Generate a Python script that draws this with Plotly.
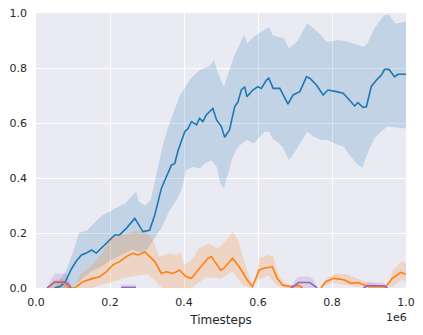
import plotly.graph_objects as go

# ---------------- data ----------------
blue_x = [0.05, 0.065, 0.078, 0.096, 0.11, 0.123, 0.136, 0.15, 0.163, 0.181, 0.195, 0.213, 0.226, 0.244,
          0.267, 0.28, 0.289, 0.307, 0.321, 0.339, 0.352, 0.366, 0.375, 0.384, 0.402, 0.411, 0.42, 0.434,
          0.442, 0.451, 0.46, 0.478, 0.488, 0.501, 0.51, 0.523, 0.537, 0.546, 0.555, 0.564, 0.570, 0.586,
          0.6, 0.609, 0.623, 0.629, 0.641, 0.659, 0.681, 0.695, 0.713, 0.731, 0.74, 0.758, 0.776, 0.789,
          0.812, 0.83, 0.843, 0.861, 0.87, 0.884, 0.893, 0.906, 0.92, 0.934, 0.942, 0.954, 0.969, 0.978, 1.0]
blue_y = [0.0, 0.005, 0.02, 0.07, 0.10, 0.12, 0.127, 0.138, 0.127, 0.15, 0.168, 0.193, 0.193, 0.217,
          0.253, 0.223, 0.205, 0.21, 0.265, 0.363, 0.405, 0.447, 0.453, 0.50, 0.568, 0.58, 0.605, 0.593,
          0.617, 0.605, 0.629, 0.653, 0.611, 0.587, 0.548, 0.575, 0.659, 0.677, 0.72, 0.732, 0.696, 0.72,
          0.732, 0.726, 0.756, 0.763, 0.726, 0.726, 0.669, 0.702, 0.714, 0.768, 0.763, 0.738, 0.702, 0.72,
          0.714, 0.708, 0.69, 0.662, 0.674, 0.657, 0.659, 0.732, 0.756, 0.775, 0.795, 0.795, 0.768, 0.777, 0.777]
blue_hi_x = [0.05, 0.08, 0.1, 0.116, 0.139, 0.16, 0.18, 0.215, 0.242, 0.27, 0.278, 0.296, 0.31, 0.323,
             0.335, 0.345, 0.361, 0.388, 0.415, 0.442, 0.465, 0.472, 0.481, 0.49, 0.508, 0.535, 0.562,
             0.571, 0.589, 0.616, 0.63, 0.639, 0.652, 0.67, 0.684, 0.706, 0.733, 0.751, 0.77, 0.783,
             0.796, 0.815, 0.842, 0.869, 0.886, 0.896, 0.914, 0.941, 0.954, 0.972, 1.0]
blue_hi_y = [0.0, 0.06, 0.13, 0.2, 0.21, 0.24, 0.265, 0.29, 0.309, 0.35, 0.314, 0.30, 0.32, 0.40,
             0.47, 0.53, 0.60, 0.696, 0.756, 0.793, 0.805, 0.811, 0.829, 0.787, 0.732, 0.841, 0.92,
             0.89, 0.914, 0.938, 0.95, 0.92, 0.914, 0.908, 0.872, 0.896, 0.962, 0.944, 0.92, 0.896,
             0.896, 0.902, 0.896, 0.884, 0.877, 0.89, 0.944, 0.993, 0.993, 0.962, 0.968]
blue_lo_x = [0.05, 0.08, 0.1, 0.13, 0.15, 0.18, 0.2, 0.23, 0.26, 0.28, 0.3, 0.32, 0.34, 0.36, 0.38,
             0.393, 0.406, 0.424, 0.442, 0.456, 0.474, 0.488, 0.498, 0.508, 0.52, 0.532, 0.546, 0.569,
             0.589, 0.605, 0.618, 0.63, 0.639, 0.652, 0.666, 0.684, 0.697, 0.711, 0.733, 0.751, 0.77,
             0.788, 0.805, 0.832, 0.851, 0.869, 0.882, 0.896, 0.914, 0.932, 0.95, 1.0]
blue_lo_y = [0.0, 0.0, 0.0, 0.04, 0.06, 0.08, 0.1, 0.12, 0.14, 0.13, 0.14, 0.18, 0.22, 0.28, 0.32,
             0.356, 0.429, 0.441, 0.435, 0.453, 0.465, 0.441, 0.38, 0.363, 0.42, 0.477, 0.514, 0.538,
             0.526, 0.55, 0.568, 0.568, 0.544, 0.532, 0.514, 0.465, 0.49, 0.52, 0.568, 0.55, 0.538,
             0.538, 0.526, 0.514, 0.477, 0.45, 0.436, 0.49, 0.544, 0.568, 0.587, 0.58]

orange_x = [0.03, 0.04, 0.05, 0.06, 0.07, 0.08, 0.09, 0.105, 0.127, 0.154, 0.172, 0.19, 0.208, 0.226,
            0.244, 0.262, 0.276, 0.294, 0.307, 0.321, 0.339, 0.352, 0.37, 0.388, 0.406, 0.42, 0.442,
            0.465, 0.474, 0.499, 0.508, 0.531, 0.549, 0.571, 0.585, 0.603, 0.616, 0.639, 0.652, 0.666,
            0.688, 0.71, 0.72, None, 0.77, 0.783, 0.805, 0.832, 0.851, 0.87, 0.9, 0.945, 0.963, 0.986, 1.0]
orange_y = [0.0, 0.01, 0.02, 0.02, 0.02, 0.015, 0.0, 0.0, 0.023, 0.035, 0.041, 0.059, 0.084, 0.096,
            0.114, 0.126, 0.12, 0.132, 0.114, 0.096, 0.053, 0.059, 0.053, 0.065, 0.041, 0.035, 0.072,
            0.108, 0.114, 0.065, 0.072, 0.108, 0.077, 0.029, 0.005, 0.065, 0.072, 0.077, 0.035, 0.011,
            0.005, 0.01, 0.0, None, 0.0, 0.023, 0.035, 0.03, 0.017, 0.02, 0.005, 0.005, 0.035, 0.057, 0.05]
orange_hi_x = [0.03, 0.05, 0.07, 0.09, 0.105, 0.12, 0.15, 0.18, 0.2, 0.23, 0.255, 0.27, 0.3, 0.315,
               0.323, 0.333, 0.36, 0.38, 0.391, 0.4, 0.42, 0.44, 0.468, 0.49, 0.496, 0.515, 0.532,
               0.546, 0.559, 0.578, 0.59, 0.605, 0.627, 0.641, 0.654, 0.67, 0.69, 0.72, None,
               0.77, 0.785, 0.807, 0.84, 0.875, 0.95, 0.965, 0.988, 1.0]
orange_hi_y = [0.0, 0.03, 0.035, 0.0, 0.0, 0.05, 0.08, 0.13, 0.187, 0.19, 0.2, 0.21, 0.2, 0.18,
               0.15, 0.114, 0.126, 0.12, 0.132, 0.085, 0.10, 0.144, 0.162, 0.144, 0.15, 0.175, 0.205,
               0.175, 0.114, 0.035, 0.01, 0.108, 0.12, 0.114, 0.053, 0.02, 0.01, 0.01, None,
               0.005, 0.035, 0.053, 0.05, 0.03, 0.005, 0.065, 0.096, 0.09]
orange_lo_x = [0.03, 0.09, 0.105, 0.15, 0.2, 0.25, 0.3, 0.32, 0.34, 0.38, 0.42, 0.46, 0.5, 0.53,
               0.56, 0.58, 0.6, 0.63, 0.65, 0.67, 0.72, None, 0.77, 0.8, 0.84, 0.87, 0.95, 0.97, 0.99, 1.0]
orange_lo_y = [0.0, 0.0, 0.0, 0.0, 0.02, 0.04, 0.05, 0.03, 0.0, 0.0, 0.0, 0.04, 0.035, 0.06,
               0.01, 0.0, 0.03, 0.045, 0.01, 0.0, 0.0, None, 0.0, 0.02, 0.01, 0.005, 0.0, 0.01, 0.03, 0.02]

purple_x = [0.03, 0.04, 0.05, 0.08, 0.09, 0.095, None, 0.23, 0.27, None,
            0.69, 0.70, 0.71, 0.74, 0.75, 0.76, None, 0.885, 0.895, 0.94, 0.95]
purple_y = [0.0, 0.01, 0.022, 0.022, 0.01, 0.0, None, 0.002, 0.002, None,
            0.0, 0.01, 0.02, 0.02, 0.01, 0.0, None, 0.0, 0.008, 0.008, 0.0]
purple_hi = [0.0, 0.03, 0.053, 0.053, 0.03, 0.0, None, 0.012, 0.012, None,
             0.0, 0.03, 0.042, 0.042, 0.03, 0.0, None, 0.0, 0.02, 0.02, 0.0]
purple_lo = [0.0, 0.0, 0.0, 0.0, 0.0, 0.0, None, 0.0, 0.0, None,
             0.0, 0.0, 0.0, 0.0, 0.0, 0.0, None, 0.0, 0.0, 0.0, 0.0]

x_ticks = [0.0, 0.2, 0.4, 0.6, 0.8, 1.0]
y_ticks = [0.0, 0.2, 0.4, 0.6, 0.8, 1.0]
SCALE = 1e6

BLUE, ORANGE, PURPLE = "#1f77b4", "#ff7f0e", "#9467bd"


def segments(xs, *cols):
    out, cur = [], [[] for _ in range(len(cols) + 1)]
    for i, x in enumerate(xs):
        if x is None:
            if cur[0]:
                out.append(cur)
            cur = [[] for _ in range(len(cols) + 1)]
            continue
        cur[0].append(x * SCALE)
        for j, c in enumerate(cols):
            cur[j + 1].append(c[i])
    if cur[0]:
        out.append(cur)
    return out


def band_poly(hx, hy, lx, ly, color):
    traces = []
    hs = segments(hx, hy)
    ls = segments(lx, ly)
    for (a, b) in zip(hs, ls):
        px = a[0] + b[0][::-1]
        py = a[1] + b[1][::-1]
        traces.append(go.Scatter(x=px, y=py, fill="toself", fillcolor=color, mode="none",
                                 line=dict(width=0), hoverinfo="skip", showlegend=False))
    return traces


def rgba(hexc, a):
    h = hexc.lstrip("#")
    return "rgba(%d,%d,%d,%.2f)" % (int(h[0:2], 16), int(h[2:4], 16), int(h[4:6], 16), a)


fig = go.Figure()
for t in band_poly(blue_hi_x, blue_hi_y, blue_lo_x, blue_lo_y, rgba(BLUE, 0.2)):
    fig.add_trace(t)
for t in band_poly(orange_hi_x, orange_hi_y, orange_lo_x, orange_lo_y, rgba(ORANGE, 0.2)):
    fig.add_trace(t)
for t in band_poly(purple_x, purple_hi, purple_x, purple_lo, rgba(PURPLE, 0.2)):
    fig.add_trace(t)

def sx(xs):
    return [None if v is None else v * SCALE for v in xs]

fig.add_trace(go.Scatter(x=sx(blue_x), y=blue_y, mode="lines", line=dict(color=BLUE, width=1.6),
                         showlegend=False))
fig.add_trace(go.Scatter(x=sx(orange_x), y=orange_y, mode="lines", line=dict(color=ORANGE, width=1.6),
                         showlegend=False, connectgaps=False))
fig.add_trace(go.Scatter(x=sx(purple_x), y=purple_y, mode="lines", line=dict(color=PURPLE, width=1.6),
                         showlegend=False, connectgaps=False))

font = dict(family="DejaVu Sans", size=11, color="#262626")
fig.update_layout(
    width=423, height=335,
    margin=dict(l=36, r=17, t=13, b=47, autoexpand=False),
    paper_bgcolor="white", plot_bgcolor="#EAEAF2",
    font=font,
    xaxis=dict(range=[0, SCALE], tickvals=[v * SCALE for v in x_ticks],
               ticktext=["%.1f" % v for v in x_ticks], showgrid=True, gridcolor="white",
               gridwidth=1, zeroline=False, showline=False, ticks="", ticklabelstandoff=6,
               automargin=False,
               title=dict(text="Timesteps", font=dict(size=12, color="#262626"), standoff=7)),
    yaxis=dict(range=[0, 1.0], tickvals=y_ticks, ticktext=["%.1f" % v for v in y_ticks],
               showgrid=True, gridcolor="white", gridwidth=1, zeroline=False, showline=False,
               ticks="", ticklabelstandoff=8, automargin=False),
    annotations=[dict(text="1e6", xref="paper", yref="paper", x=0.975, y=-0.108,
                      xanchor="center", yanchor="middle", showarrow=False,
                      font=dict(size=11, color="#262626"))],
)
fig.write_html("out.html", config={"displayModeBar": False},
               post_script="document.body.style.margin='0';")
